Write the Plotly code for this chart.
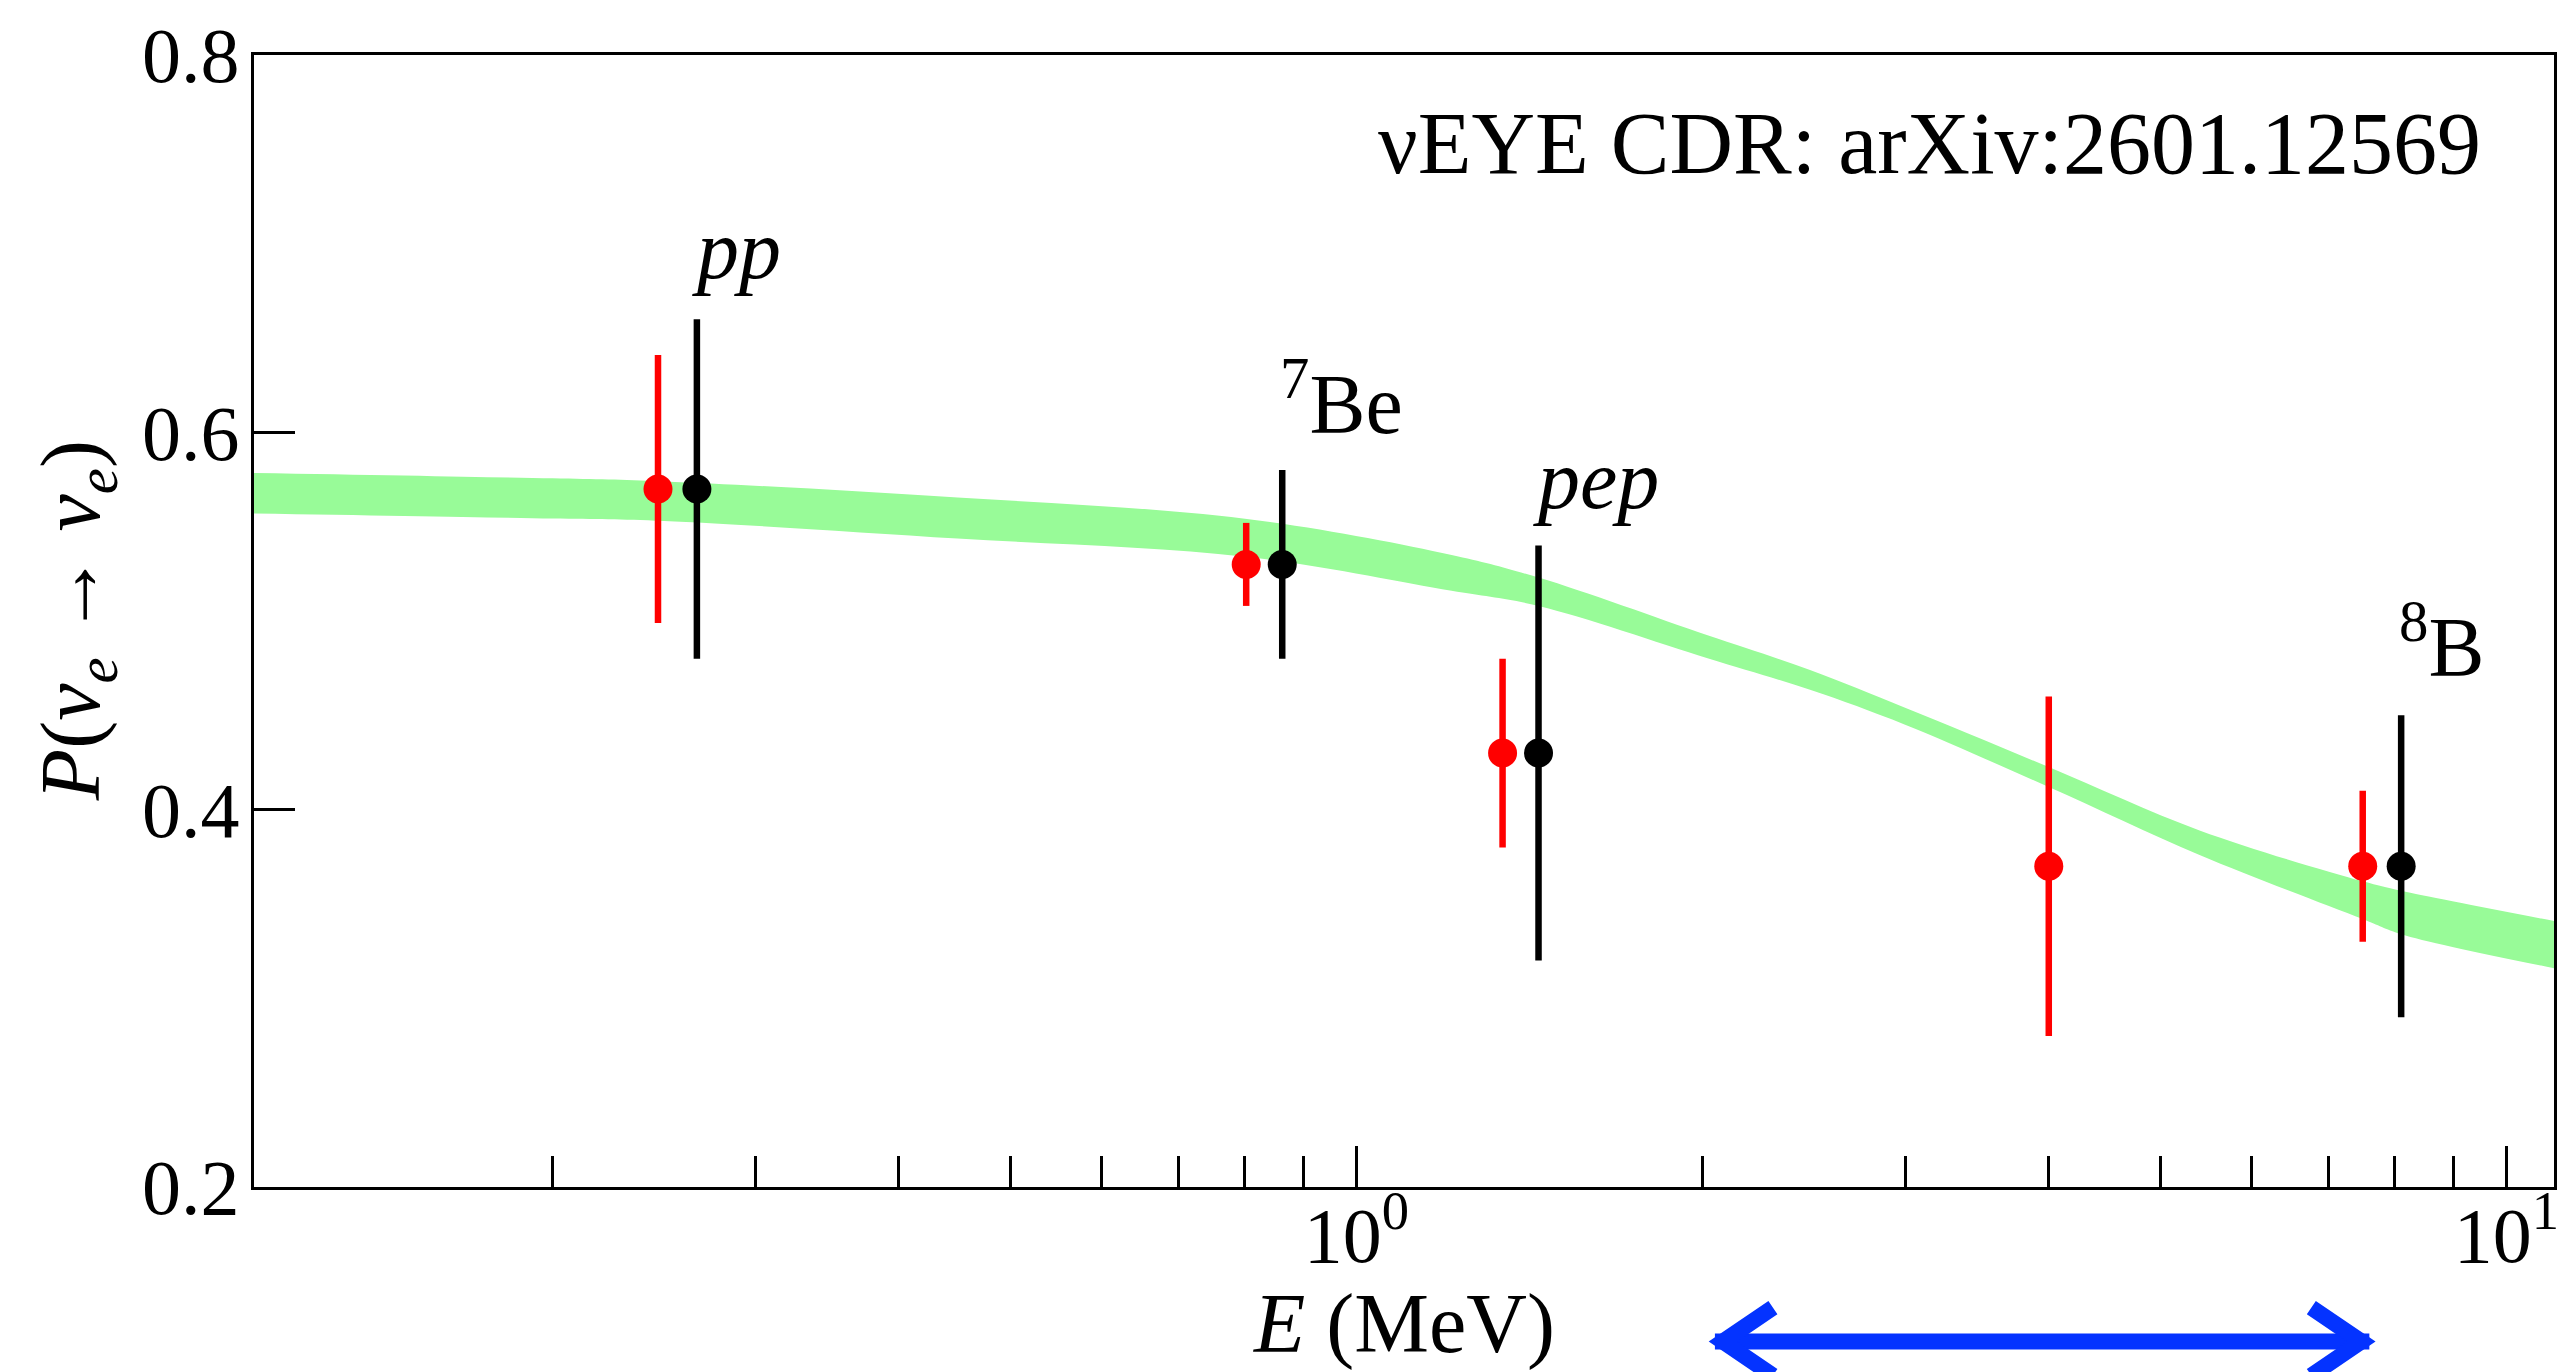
import numpy as np
import plotly.graph_objects as go

# ---- data ----
BAND_E = [0.11, 0.2, 0.25, 0.45, 0.8, 1.21, 1.44, 2.02, 2.48, 3.0, 4.0, 5.41, 7.5, 8.1, 11.0]
BAND_UPPER = [0.5785, 0.5756, 0.574, 0.5655, 0.5542, 0.535, 0.523, 0.4924, 0.474, 0.454, 0.4226, 0.389, 0.362, 0.357, 0.341]
BAND_LOWER = [0.557, 0.5543, 0.553, 0.5437, 0.5341, 0.516, 0.508, 0.4803, 0.4635, 0.445, 0.412, 0.376, 0.342, 0.334, 0.316]

RED_E = [0.247, 0.802, 1.34, 4.0, 7.5]
RED_P = [0.57, 0.53, 0.43, 0.37, 0.37]
RED_ERR = [0.071, 0.022, 0.05, 0.09, 0.04]

BLACK_E = [0.267, 0.862, 1.44, 8.1]
BLACK_P = [0.57, 0.53, 0.43, 0.37]
BLACK_ERR = [0.09, 0.05, 0.11, 0.08]

LABELS = ["<i>pp</i>", "<sup>7</sup>Be", "<i>pep</i>", "<sup>8</sup>B"]
LABEL_E = [0.289, 0.971, 1.615, 8.79]
LABEL_P = [0.697, 0.618, 0.575, 0.489]

X_TICKS = [1, 10]
X_TICKTEXT = ["10<sup>0</sup>", "10<sup>1</sup>"]
X_MINOR = [0.2, 0.3, 0.4, 0.5, 0.6, 0.7, 0.8, 0.9, 2, 3, 4, 5, 6, 7, 8, 9]
Y_TICKS = [0.2, 0.4, 0.6, 0.8]
Y_TICKTEXT = ["0.2", "0.4", "0.6", "0.8"]
X_RANGE = [0.11, 11.0]
Y_RANGE = [0.2, 0.8]

ARROW_E = [2.05, 7.6]
TITLE_TEXT = "νEYE CDR: arXiv:2601.12569"

FONT = "Liberation Serif"
GREEN = "#98fb98"
BLUE = "#0433ff"

fig = go.Figure()

fig.add_trace(go.Scatter(x=BAND_E, y=BAND_LOWER, mode="lines",
                         line=dict(color="rgba(0,0,0,0)", width=0, shape="spline", smoothing=1.0),
                         hoverinfo="skip", showlegend=False))
fig.add_trace(go.Scatter(x=BAND_E, y=BAND_UPPER, mode="lines", fill="tonexty",
                         fillcolor=GREEN,
                         line=dict(color="rgba(0,0,0,0)", width=0, shape="spline", smoothing=1.0),
                         hoverinfo="skip", showlegend=False))

fig.add_trace(go.Scatter(x=RED_E, y=RED_P, mode="markers",
                         marker=dict(color="#ff0000", size=29, line=dict(width=0)),
                         error_y=dict(type="data", array=RED_ERR, color="#ff0000", thickness=6.5, width=0),
                         showlegend=False))
fig.add_trace(go.Scatter(x=BLACK_E, y=BLACK_P, mode="markers",
                         marker=dict(color="#000000", size=29, line=dict(width=0)),
                         error_y=dict(type="data", array=BLACK_ERR, color="#000000", thickness=6.5, width=0),
                         showlegend=False))

annotations = []
for t, e, p in zip(LABELS, LABEL_E, LABEL_P):
    annotations.append(dict(x=np.log10(e), y=p, xref="x", yref="y", text=t, showarrow=False,
                            xanchor="center", yanchor="middle",
                            font=dict(family=FONT, size=84, color="black")))

annotations.append(dict(x=0.969, y=0.922, xref="paper", yref="paper", text=TITLE_TEXT,
                        showarrow=False, xanchor="right", yanchor="middle",
                        font=dict(family=FONT, size=88, color="black")))

annotations.append(dict(x=0.5, y=-0.1207, xref="paper", yref="paper",
                        text="<i>E</i> (MeV)", showarrow=False, xanchor="center", yanchor="middle",
                        font=dict(family=FONT, size=84, color="black")))
annotations.append(dict(x=-0.0769, y=0.5, xref="paper", yref="paper",
                        text="<i>P</i>(<i>ν</i><sub><i>e</i></sub> → <i>ν</i><sub><i>e</i></sub>)",
                        showarrow=False, xanchor="center", yanchor="middle", textangle=-90,
                        font=dict(family=FONT, size=84, color="black")))

ARROW_Y = -0.1365
shapes = [
    dict(type="line", xref="x", yref="paper", x0=ARROW_E[0], x1=ARROW_E[1], y0=ARROW_Y, y1=ARROW_Y,
         line=dict(color=BLUE, width=16)),
    dict(type="path", xref="x", yref="paper", xsizemode="pixel", ysizemode="pixel",
         xanchor=ARROW_E[0], yanchor=ARROW_Y, path="M 58 34 L 8 0 L 58 -34",
         line=dict(color=BLUE, width=16)),
    dict(type="path", xref="x", yref="paper", xsizemode="pixel", ysizemode="pixel",
         xanchor=ARROW_E[1], yanchor=ARROW_Y, path="M -58 34 L -8 0 L -58 -34",
         line=dict(color=BLUE, width=16)),
]

fig.update_layout(
    width=2571, height=1372,
    margin=dict(l=254, r=16, t=44, b=185, pad=0),
    plot_bgcolor="white", paper_bgcolor="white",
    showlegend=False, hovermode=False,
    annotations=annotations, shapes=shapes,
    font=dict(family=FONT, color="black"),
)
fig.update_xaxes(type="log", range=[np.log10(X_RANGE[0]), np.log10(X_RANGE[1])],
                 showgrid=False, zeroline=False, showline=True, linecolor="black", linewidth=3,
                 mirror=True, ticks="inside", ticklen=41, tickwidth=2.5, tickcolor="black",
                 tickvals=X_TICKS, ticktext=X_TICKTEXT, tickfont=dict(family=FONT, size=78),
                 ticklabelstandoff=-22,
                 minor=dict(tickvals=X_MINOR, ticks="inside", ticklen=31, tickwidth=2.5,
                            tickcolor="black", showgrid=False))
fig.update_yaxes(range=Y_RANGE, showgrid=False, zeroline=False, showline=True, linecolor="black",
                 linewidth=3, mirror=True, ticks="inside", ticklen=41, tickwidth=2.5,
                 tickcolor="black", tickvals=Y_TICKS, ticktext=Y_TICKTEXT,
                 tickfont=dict(family=FONT, size=78), ticklabelstandoff=-4)

fig.write_html("out.html")
